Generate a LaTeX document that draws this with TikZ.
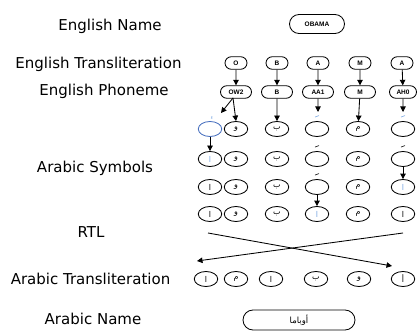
\documentclass[tikz,border=0pt]{standalone}
\usepackage{fontspec}
\setmainfont{DejaVu Sans}
\newfontfamily\boxfont{Liberation Sans}
\newfontfamily\arabicfont[Script=Arabic]{DejaVu Sans}
\TeXXeTstate=1
\usetikzlibrary{shapes.misc,shapes.geometric,arrows.meta}
\newcommand\artxt[1]{{\arabicfont\beginR #1\endR}}
\definecolor{symblue}{RGB}{70,110,190}
\definecolor{lightblue}{RGB}{120,165,225}
\begin{document}
\begin{tikzpicture}[x=1pt,y=-1pt,
  lbl/.style={anchor=base, inner sep=0pt, font=\fontsize{15}{17}\selectfont},
  pill/.style={draw, rounded rectangle, line width=0.85pt, minimum height=12.5pt, inner sep=0pt, font=\boxfont\bfseries\fontsize{6.5}{7}\selectfont},
  sym/.style={draw, ellipse, line width=0.85pt, minimum width=23.5pt, minimum height=15pt, inner sep=0pt, font=\arabicfont\fontsize{8}{9}\selectfont},
  arr/.style={-{Triangle[length=5.5pt,width=5.5pt]}, line width=0.85pt},
  fathamark/.style={line width=0.6pt},
  bluemark/.style={line width=0.6pt, draw=lightblue}]
\useasboundingbox (0,0) rectangle (417,331);

% left labels
\node[lbl] (l1) at (110,31) {English Name};
\node[lbl] (l2) at (98.5,69) {English Transliteration};
\node[lbl] (l3) at (104,96) {English Phoneme};
\node[lbl] (l4) at (95,172) {Arabic Symbols};
\node[lbl] (l5) at (91,237) {RTL};
\node[lbl] (l6) at (90.5,284) {Arabic Transliteration};
\node[lbl] (l7) at (93,324) {Arabic Name};

% English name
\node[pill, minimum width=55pt, minimum height=19pt] (obama) at (317,24) {OBAMA};

% transliteration
\node[pill, minimum width=22pt] (t1) at (236,63) {O};
\node[pill, minimum width=22pt] (t2) at (277,63) {B};
\node[pill, minimum width=22pt] (t3) at (318,63) {A};
\node[pill, minimum width=22pt] (t4) at (360,63) {M};
\node[pill, minimum width=22pt] (t5) at (402,63) {A};

% phonemes
\node[pill, minimum width=31pt] (p1) at (236,92) {OW2};
\node[pill, minimum width=31pt] (p2) at (277,92) {B};
\node[pill, minimum width=31pt] (p3) at (318,92) {AA1};
\node[pill, minimum width=31pt] (p4) at (360,92) {M};
\node[pill, minimum width=27pt] (p5) at (403,92) {AH0};

\foreach \i in {1,...,5}{\draw[arr] (t\i) -- (p\i);}

% Arabic symbols row A
\node[sym, draw=symblue] (a1) at (210,129) {};
\node[sym] (a2) at (236,129) {\artxt{و}};
\node[sym] (a3) at (277,129) {\artxt{ب}};
\node[sym] (a4) at (317,129) {};
\node[sym] (a5) at (358,129) {\artxt{م}};
\node[sym] (a6) at (403,129) {};
\node[inner sep=0pt, text=lightblue, font=\arabicfont\fontsize{5.5}{6}\selectfont] (hz) at (212,118.5) {\artxt{ء}};
% row B
\node[sym] (b1) at (210,159) {};
\node[inner sep=0pt, text=lightblue, font=\arabicfont\fontsize{8}{9}\selectfont] (b1t) at (b1) {\artxt{ا}};
\node[sym] (b2) at (236,159) {\artxt{و}};
\node[sym] (b3) at (277,159) {\artxt{ب}};
\node[sym] (b4) at (317,159) {};
\node[sym] (b5) at (358,159) {\artxt{م}};
\node[sym] (b6) at (403,159) {};
% row C
\node[sym] (c1) at (210,187) {\artxt{ا}};
\node[sym] (c2) at (236,187) {\artxt{و}};
\node[sym] (c3) at (277,187) {\artxt{ب}};
\node[sym] (c4) at (317,187) {};
\node[sym] (c5) at (358,187) {\artxt{م}};
\node[sym] (c6) at (403,187) {};
\node[inner sep=0pt, text=lightblue, font=\arabicfont\fontsize{8}{9}\selectfont] (c6t) at (c6) {\artxt{ا}};
% row D
\node[sym] (d1) at (210,214) {\artxt{ا}};
\node[sym] (d2) at (236,214) {\artxt{و}};
\node[sym] (d3) at (277,214) {\artxt{ب}};
\node[sym] (d4) at (317,214) {};
\node[inner sep=0pt, text=lightblue, font=\arabicfont\fontsize{8}{9}\selectfont] (d4t) at (d4) {\artxt{ا}};
\node[sym] (d5) at (358,214) {\artxt{م}};
\node[sym] (d6) at (403,214) {\artxt{ا}};

% fatha marks
\draw[bluemark] ([shift={(-2,-4)}]a4.north) -- ([shift={(2,-5.5)}]a4.north);
\draw[bluemark] ([shift={(-2,-4)}]a6.north) -- ([shift={(2,-5.5)}]a6.north);
\draw[fathamark] ([shift={(-2,-4)}]b4.north) -- ([shift={(2,-5.5)}]b4.north);
\draw[fathamark] ([shift={(-2,-4)}]b6.north) -- ([shift={(2,-5.5)}]b6.north);
\draw[fathamark] ([shift={(-2,-4)}]c4.north) -- ([shift={(2,-5.5)}]c4.north);

% phoneme to symbol arrows
\coordinate (p1s) at (233,98);
\draw[arr] (p1s) -- (221,113);
\draw[arr] (p1s) -- (a2.north);
\draw[arr] (p2) -- (a3);
\coordinate (a4m) at (318,112);
\draw[arr] (p3) -- (a4m);
\draw[arr] (p4) -- (a5);
\coordinate (a6m) at (403,112);
\draw[arr] (p5) -- (a6m);

\draw[arr] (a1) -- (b1);
\draw[arr] (b6) -- (c6);
\draw[arr] (c4) -- (d4);

% RTL crossing
\coordinate (r1s) at (208,233);
\coordinate (r1e) at (392,266);
\coordinate (r2s) at (403,233);
\coordinate (r2e) at (197,261);
\draw[arr] (r1s) -- (r1e);
\draw[arr] (r2s) -- (r2e);

% Arabic transliteration
\node[sym] (e1) at (206,279) {\artxt{ا}};
\node[sym] (e2) at (236,279) {\artxt{م}};
\node[sym] (e3) at (271,279) {\artxt{ا}};
\node[sym] (e4) at (316,279) {\artxt{ب}};
\node[sym] (e5) at (359,279) {\artxt{و}};
\node[sym] (e6) at (403,279) {\artxt{أ}};

% Arabic name
\node[pill, minimum width=112pt, minimum height=20pt, font=\arabicfont\fontsize{8.5}{9}\selectfont] (name) at (299,320) {\artxt{أوباما}};
\end{tikzpicture}
\end{document}
